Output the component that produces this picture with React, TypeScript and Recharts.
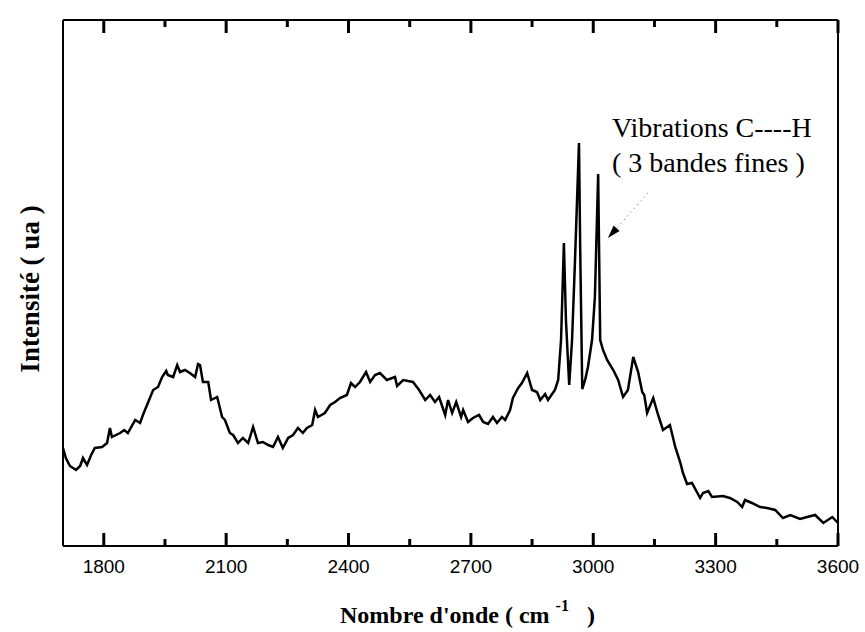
import { LineChart, Line, XAxis, YAxis, ReferenceLine, ReferenceDot, Label } from 'recharts';

// wavenumber (cm-1) and intensity (arbitrary units)
const wavenumbers = [
  1700, 1707, 1717, 1732, 1742, 1749, 1759, 1769, 1778, 1796,
  1808, 1815, 1820, 1830, 1840, 1850, 1859, 1877, 1889, 1896,
  1908, 1921, 1933, 1943, 1953, 1957, 1970, 1980, 1987, 1999,
  2011, 2024, 2031, 2036, 2043, 2056, 2063, 2078, 2090, 2097,
  2109, 2117, 2129, 2141, 2154, 2166, 2178, 2190, 2203, 2215,
  2227, 2239, 2252, 2264, 2276, 2288, 2298, 2311, 2318, 2325,
  2342, 2355, 2367, 2379, 2396, 2406, 2416, 2428, 2443, 2453,
  2465, 2477, 2494, 2514, 2519, 2534, 2558, 2573, 2588, 2600,
  2612, 2622, 2637, 2644, 2654, 2664, 2676, 2681, 2693, 2705,
  2720, 2730, 2742, 2754, 2764, 2776, 2784, 2796, 2803, 2816,
  2825, 2838, 2850, 2862, 2870, 2882, 2889, 2906, 2914, 2921,
  2928, 2933, 2941, 2948, 2955, 2965, 2968, 2973, 2980, 2987,
  2997, 3004, 3012, 3017, 3024, 3034, 3049, 3061, 3073, 3085,
  3098, 3110, 3120, 3125, 3132, 3147, 3159, 3171, 3188, 3201,
  3213, 3220, 3230, 3242, 3262, 3269, 3282, 3291, 3318, 3335,
  3353, 3365, 3372, 3389, 3409, 3426, 3446, 3465, 3483, 3507,
  3524, 3544, 3564, 3586, 3600,
];

const intensity = [
  98, 88, 80, 76, 80, 88, 81, 91, 98, 99,
  103, 118, 109, 111, 113, 116, 113, 126, 123, 131,
  143, 156, 159, 169, 175, 171, 169, 181, 174, 176,
  173, 169, 182, 181, 164, 164, 146, 149, 129, 126,
  113, 111, 103, 108, 103, 119, 103, 104, 101, 99,
  109, 98, 108, 111, 118, 113, 118, 121, 136, 129,
  133, 141, 144, 148, 151, 163, 159, 164, 174, 164,
  171, 173, 166, 169, 160, 166, 164, 156, 146, 151,
  144, 149, 131, 146, 133, 144, 129, 136, 124, 128,
  131, 124, 122, 129, 123, 129, 126, 136, 148, 158,
  163, 173, 156, 154, 146, 152, 146, 156, 166, 206,
  303, 226, 161, 206, 283, 403, 296, 157, 166, 179,
  206, 249, 372, 206, 196, 186, 176, 166, 149, 156,
  189, 174, 154, 151, 133, 148, 131, 116, 121, 99,
  84, 73, 62, 63, 48, 53, 55, 49, 50, 48,
  44, 39, 46, 43, 39, 38, 36, 28, 31, 27,
  29, 31, 23, 29, 23,
];

const majorTicks = [1800, 2100, 2400, 2700, 3000, 3300, 3600];
const minorTicks = [1950, 2250, 2550, 2850, 3150, 3450];
const yMax = 526;
const majorLen = 13;
const minorLen = 7;

const annotationLines = ['Vibrations C----H', '( 3 bandes fines )'];
const annotationX = 3046;
const annotationY = [409, 374];
const arrowFrom = { x: 3134, y: 353 };
const arrowTo = { x: 3036, y: 308 };

const data = wavenumbers.map((w, i) => ({ w, v: intensity[i] }));

const serif = '"Liberation Serif", "Times New Roman", serif';
const sans = '"Liberation Sans", Arial, sans-serif';

function ArrowShape({ x1, y1, x2, y2 }: any) {
  const dx = x2 - x1;
  const dy = y2 - y1;
  const len = Math.hypot(dx, dy) || 1;
  const ux = dx / len;
  const uy = dy / len;
  const head = 13;
  const half = 4;
  const bx = x2 - ux * head;
  const by = y2 - uy * head;
  return (
    <g>
      <line x1={x1} y1={y1} x2={bx} y2={by} stroke="#666" strokeWidth={1} strokeDasharray="1 4" />
      <polygon
        points={`${x2},${y2} ${bx - uy * half},${by + ux * half} ${bx + uy * half},${by - ux * half}`}
        fill="#000"
      />
    </g>
  );
}

function TickShape({ x1, y1, x2, y2 }: any) {
  return <line x1={x1} y1={y1} x2={x2} y2={y2} stroke="#000" strokeWidth={3} />;
}

function AnnotationText(text: string) {
  return ({ cx, cy }: any) => (
    <text x={cx} y={cy} fontFamily={serif} fontSize={28} fill="#000" style={{ whiteSpace: 'pre' }}>
      {text}
    </text>
  );
}

const frame = { stroke: '#000', strokeWidth: 2 };

// inner tick marks along the top and bottom edges of the frame
const tickMarks = [
  ...majorTicks.map((t) => ({ x: t, len: majorLen, top: true })),
  ...minorTicks.map((t) => ({ x: t, len: minorLen, top: true })),
  ...majorTicks.map((t) => ({ x: t, len: majorLen, top: false })),
  ...minorTicks.map((t) => ({ x: t, len: minorLen, top: false })),
];

export default function App() {
  return (
    <div style={{ position: 'absolute', left: 0, top: 0, width: 865, height: 632, background: '#fff' }}>
      <LineChart width={865} height={632} data={data} margin={{ top: 19, right: 26, left: 62, bottom: 0 }}>
        <XAxis
          xAxisId="bottom"
          dataKey="w"
          type="number"
          domain={[1700, 3600]}
          ticks={majorTicks}
          interval={0}
          height={86}
          axisLine={frame}
          tickLine={false}
          tickSize={0}
          tickMargin={14}
          tick={{ fontSize: 19, fontFamily: sans, fill: '#000' }}
        >
          <Label
            content={() => (
              <text x={340} y={623} fontFamily={serif} fontWeight="bold" fontSize={24} fill="#000" style={{ whiteSpace: 'pre' }}>
                <tspan>Nombre d'onde ( cm </tspan>
                <tspan dy={-12} fontSize={16}>-1</tspan>
                <tspan dy={12}>   )</tspan>
              </text>
            )}
          />
        </XAxis>
        <XAxis
          xAxisId="top"
          orientation="top"
          dataKey="w"
          type="number"
          domain={[1700, 3600]}
          ticks={majorTicks}
          interval={0}
          height={1}
          axisLine={frame}
          tickLine={false}
          tick={false}
        />
        <YAxis yAxisId="left" domain={[0, yMax]} width={1} tick={false} tickLine={false} axisLine={frame}>
          <Label
            content={() => (
              <text
                transform="translate(39,289) rotate(-90)"
                textAnchor="middle"
                fontFamily={serif}
                fontWeight="bold"
                fontSize={27}
                fill="#000"
              >
                Intensité ( ua )
              </text>
            )}
          />
        </YAxis>
        <YAxis yAxisId="right" orientation="right" domain={[0, yMax]} width={1} tick={false} tickLine={false} axisLine={frame} />
        {tickMarks.map((m) => (
          <ReferenceLine
            key={`${m.top ? 't' : 'b'}${m.x}`}
            xAxisId="bottom"
            yAxisId="left"
            segment={m.top ? [{ x: m.x, y: yMax }, { x: m.x, y: yMax - m.len }] : [{ x: m.x, y: 0 }, { x: m.x, y: m.len }]}
            shape={<TickShape />}
          />
        ))}
        <Line
          xAxisId="bottom"
          yAxisId="left"
          type="linear"
          dataKey="v"
          stroke="#000"
          strokeWidth={2.5}
          dot={false}
          isAnimationActive={false}
        />
        <ReferenceLine
          xAxisId="bottom"
          yAxisId="left"
          segment={[arrowFrom, arrowTo]}
          shape={<ArrowShape />}
        />
        {annotationLines.map((t, i) => (
          <ReferenceDot
            key={t}
            xAxisId="bottom"
            yAxisId="left"
            x={annotationX}
            y={annotationY[i]}
            r={0}
            shape={AnnotationText(t)}
          />
        ))}
      </LineChart>
    </div>
  );
}
